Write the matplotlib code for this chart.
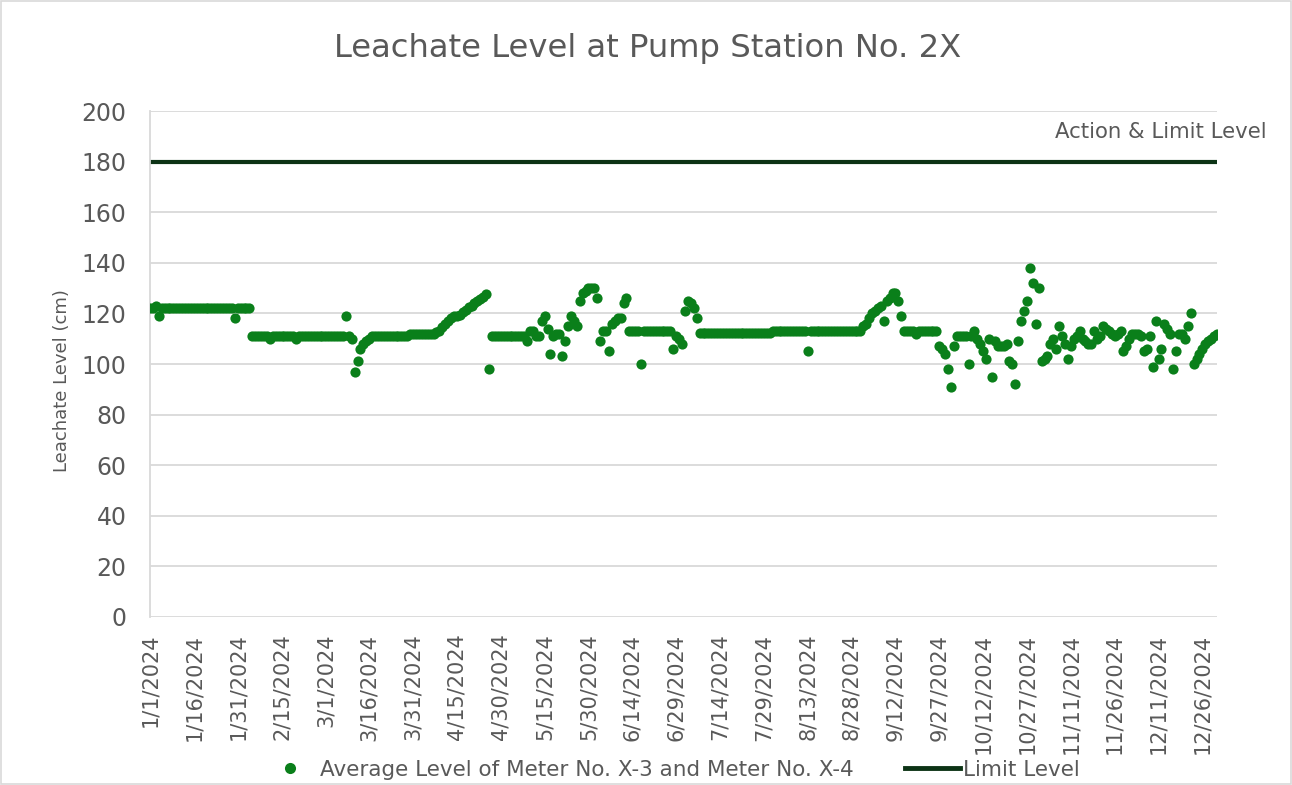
import numpy as np
import pandas as pd
import matplotlib
matplotlib.use("Agg")
import matplotlib.pyplot as plt
import matplotlib.dates as mdates
from matplotlib.patches import Rectangle
from matplotlib.lines import Line2D

# daily average level (cm), month by month
jan = [122, 122, 123, 119] + [122]*25 + [118, 122]
feb = [122]*4 + [111]*6 + [110] + [111]*8 + [110] + [111]*9
mar = [111]*7 + [119, 111, 110, 97, 101, 106, 108, 109, 110] + [111]*13 + [112]*2
apr = [112]*6 + [112, 112.5, 113, 114.5, 116, 117, 118, 119, 119, 119.5,
                 120.5, 121.5, 122.5, 123, 124, 125, 125.5, 126.5, 127.5] + [98] + [111]*4
may = [111]*8 + [109, 113, 113, 111, 111, 117, 119, 114, 104, 111, 112, 112,
                 103, 109, 115, 119, 117, 115, 125, 128, 129, 130, 130]
jun = [130, 126, 109, 113, 113, 105, 116, 117, 118, 118, 124, 126] + [113]*4 + [100] \
    + [113]*10 + [106, 111, 110]
jul = [108, 121, 125, 124, 122, 118] + [112.4]*25
aug = [113]*12 + [105] + [113]*18
sep = [115, 116, 118, 120, 121, 122, 123, 117, 125, 126, 128, 128, 125, 119] \
    + [113]*4 + [112] + [113]*7 + [107, 106, 104, 98]
oct_ = [91, 107] + [111]*4 + [100, 111, 113, 110, 108, 105, 102, 110, 95, 109, 107, 107,
                            107, 108, 101, 100, 92, 109, 117, 121, 125, 138, 132, 116, 130]
nov = [101, 102, 103, 108, 110, 106, 115, 111, 108, 102, 107, 110, 111, 113, 110,
       109, 108, 108, 113, 110, 111, 115, 114, 113, 112, 111, 112, 113, 105, 107]
dec = [110, 112, 112, 112, 111, 105, 106, 111, 99, 117, 102, 106, 116, 114, 112, 98,
       105, 112, 112, 110, 115, 120, 100, 102, 104, 106, 108, 109, 110, 111, 112]

levels = jan + feb + mar + apr + may + jun + jul + aug + sep + oct_ + nov + dec
dates = pd.date_range("2024-01-01", periods=len(levels), freq="D")
limit_level = 180

tick_dates = pd.date_range("2024-01-01", "2024-12-31", freq="15D")
tick_labels = [f"{d.month}/{d.day}/{d.year}" for d in tick_dates]

grey = "#595959"
green = "#0a7f1a"
dark = "#0c3315"

fig = plt.figure(figsize=(12.92, 7.85), dpi=100)
ax = fig.add_axes([150/1292, 1-617/785, (1217-150)/1292, (617-111)/785])

ax.scatter(dates, levels, s=54, color=green, zorder=3, linewidths=0)
x0 = mdates.date2num(pd.Timestamp("2024-01-01"))
x1 = x0 + 365
ax.plot([x0, x1], [limit_level, limit_level], color=dark, lw=3, zorder=2,
        solid_capstyle="butt")

ax.set_xlim(x0, x1)
ax.set_ylim(0, 200)
ax.set_yticks(np.arange(0, 201, 20))
ax.set_xticks(mdates.date2num(tick_dates))
ax.set_xticklabels(tick_labels, rotation=90, fontsize=15, color=grey)
ax.tick_params(axis="y", labelsize=17, colors=grey, length=0, pad=17)
ax.tick_params(axis="x", length=0, pad=12)
ax.grid(axis="y", color="#d9d9d9", lw=1.3)
ax.set_axisbelow(True)
for s in ["top", "right", "bottom"]:
    ax.spines[s].set_visible(False)
ax.spines["left"].set_color("#d9d9d9")
ax.spines["left"].set_linewidth(1.3)

fig.text(62/1292, 1-381/785, "Leachate Level (cm)", rotation=90, ha="center",
         va="center", fontsize=13, color=grey)
fig.text(648/1292, 1-48/785, "Leachate Level at Pump Station No. 2X", ha="center",
         va="center", fontsize=23.2, color=grey)
fig.text(1267/1292, 1-132/785, "Action & Limit Level", ha="right", va="center",
         fontsize=15.3, color=grey)

handles = [Line2D([], [], marker="o", ls="", color=green, markersize=8, markeredgewidth=0),
           Line2D([], [], color=dark, lw=3.5)]
fig.legend(handles, ["Average Level of Meter No. X-3 and Meter No. X-4", "Limit Level"],
           loc="center", bbox_to_anchor=(671/1292, 1-770/785), ncol=2, frameon=False,
           fontsize=15.5, labelcolor=grey, columnspacing=2.4, handletextpad=0.1,
           handlelength=2.56)

fig.patches.append(Rectangle((0.001, 0.001), 0.998, 0.998, transform=fig.transFigure,
                             fill=False, edgecolor="#d9d9d9", lw=1.2))

plt.savefig("out.png", dpi=100)
